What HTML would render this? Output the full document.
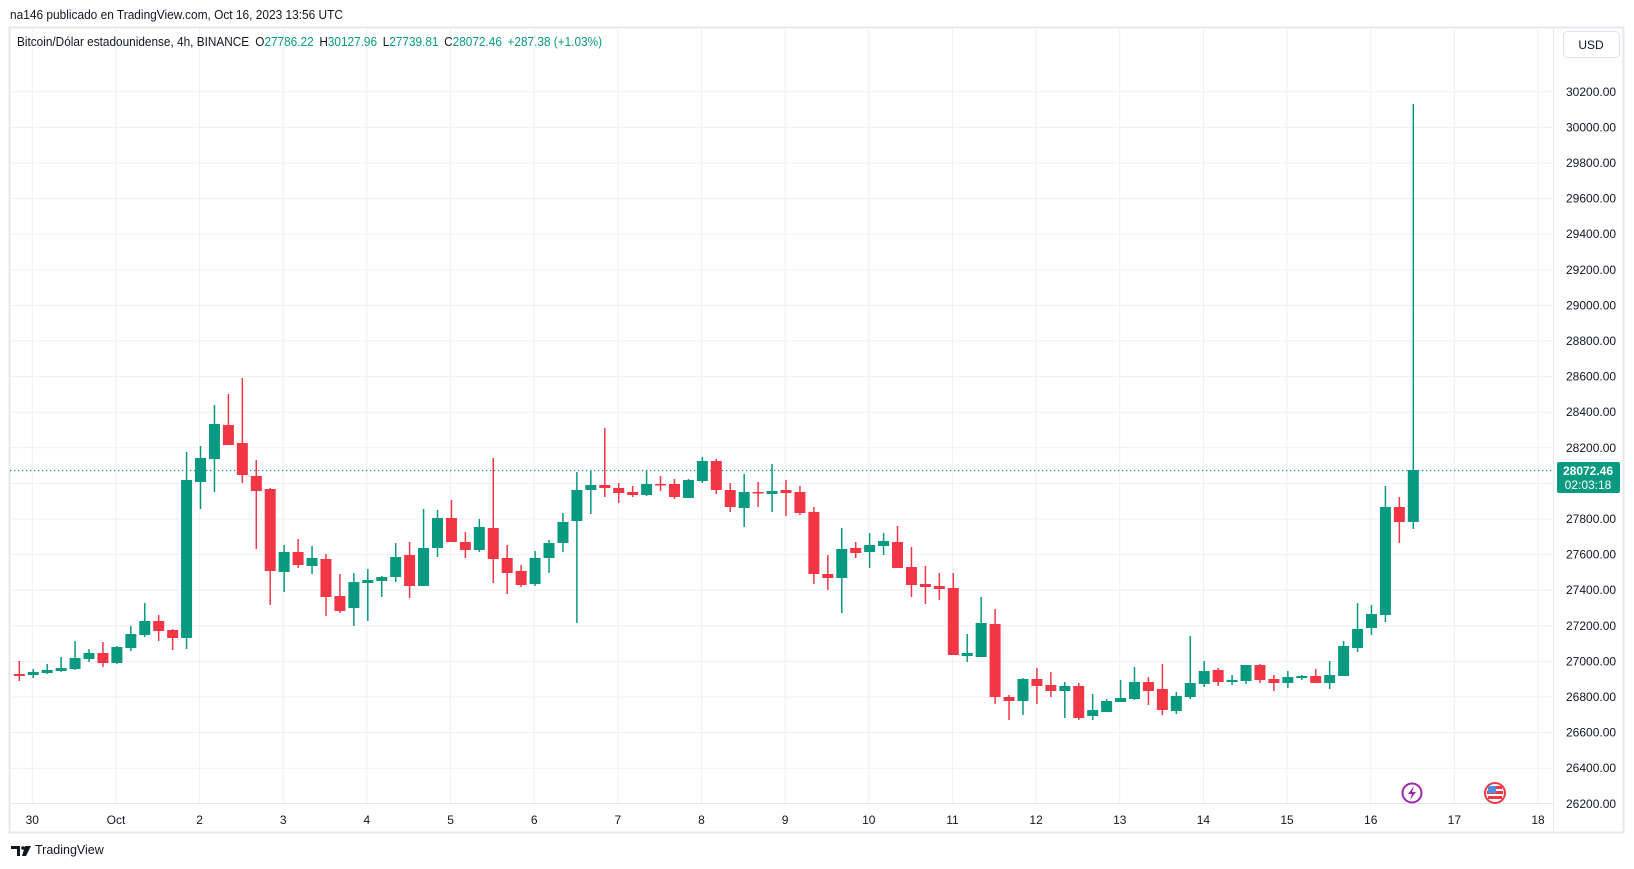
<!DOCTYPE html>
<html><head><meta charset="utf-8"><style>
html,body{margin:0;padding:0;background:#fff;width:1634px;height:869px;overflow:hidden}
svg{display:block;font-family:"Liberation Sans",sans-serif}
</style></head><body>
<svg id="s" width="1634" height="869" viewBox="0 0 1634 869" xmlns="http://www.w3.org/2000/svg">
<rect x="0" y="0" width="1634" height="869" fill="#fff"/>
<text x="10" y="19" font-size="12.5" fill="#131722" textLength="333" lengthAdjust="spacingAndGlyphs">na146 publicado en TradingView.com, Oct 16, 2023 13:56 UTC</text>
<rect x="9.5" y="27.5" width="1614" height="805" fill="#fff" stroke="#e6e8ee" stroke-width="2"/>
<g id="grid" stroke="#f0f1f4" stroke-width="1"></g>
<line x1="10" y1="803.5" x2="1553" y2="803.5" stroke="#e6e8ee"/>
<line x1="1553.5" y1="28" x2="1553.5" y2="832" stroke="#e6e8ee"/>
<line x1="10" y1="470.5" x2="1553" y2="470.5" stroke="#089981" stroke-width="1.3" stroke-dasharray="1.3 2.7"/>
<g id="candles"></g>
<g id="plabels" font-size="12" fill="#131722"></g>
<g id="tlabels" font-size="12" fill="#131722" text-anchor="middle"></g>
<text x="17" y="46" font-size="12.5" fill="#131722" textLength="585" lengthAdjust="spacingAndGlyphs">Bitcoin/Dólar estadounidense, 4h, BINANCE <tspan dx="3">O</tspan><tspan fill="#089981">27786.22</tspan><tspan dx="6">H</tspan><tspan fill="#089981">30127.96</tspan><tspan dx="6">L</tspan><tspan fill="#089981">27739.81</tspan><tspan dx="6">C</tspan><tspan fill="#089981">28072.46</tspan><tspan dx="6" fill="#089981">+287.38 (+1.03%)</tspan></text>
<rect x="1563.5" y="31.5" width="56" height="26" rx="4" fill="#fff" stroke="#e0e3eb"/>
<text x="1591" y="49" font-size="12" fill="#131722" text-anchor="middle">USD</text>
<rect x="1557" y="462" width="63" height="31" rx="2" fill="#089981"/>
<text x="1588" y="475" font-size="12" font-weight="bold" fill="#fff" text-anchor="middle">28072.46</text>
<text x="1588" y="489" font-size="12" fill="#fff" text-anchor="middle">02:03:18</text>
<circle cx="1412" cy="793" r="9.5" fill="#fff" stroke="#9c27b0" stroke-width="2"/>
<path d="M1414 786 L1408 794 L1412 794 L1410 800 L1416 792 L1412 792 Z" fill="#9c27b0"/>
<circle cx="1495" cy="793" r="10" fill="#fff" stroke="#f23645" stroke-width="2"/>
<rect x="1488" y="786" width="14" height="3" fill="#f23645"/><rect x="1487" y="791" width="16" height="3" fill="#f23645"/><rect x="1488" y="796" width="14" height="3" fill="#f23645"/>
<rect x="1488" y="786" width="8" height="7" fill="#4a90e2"/>
<text x="35" y="854" font-size="12.5" fill="#131722">TradingView</text>
<path d="M11 846 h9 v10 h-3 v-7 h-6z" fill="#131722"/><circle cx="23" cy="848" r="1.8" fill="#131722"/><path d="M25 846 h6 l-5 10 h-4z" fill="#131722"/>
</svg>
<script>
var NS="http://www.w3.org/2000/svg";
function el(p,t,a){var e=document.createElementNS(NS,t);for(var k in a)e.setAttribute(k,a[k]);p.appendChild(e);return e;}
var g=document.getElementById("grid"),pl=document.getElementById("plabels"),tl=document.getElementById("tlabels");
function py(p){return 470.5+(28072.46-p)/200*35.6;}
for(var p=26200;p<=30200;p+=200){var y=py(p);if(y<803)el(g,"line",{x1:10,x2:1553,y1:y,y2:y});var t=el(pl,"text",{x:1566,y:y+4});t.textContent=p.toFixed(2);}
var days=["30","Oct","2","3","4","5","6","7","8","9","10","11","12","13","14","15","16","17","18"];
for(var k=0;k<days.length;k++){var x=32.3+k*83.65;el(g,"line",{x1:x,x2:x,y1:28,y2:803});var t=el(tl,"text",{x:x,y:824});t.textContent=days[k];}
var G="#089981",R="#f23645";
var d=[[661,674,676,681,R],[669,672,675,678,G],[664,670,673,674,G],[657,668,671,672,G],[641,658,669,670,G],[649,653,659,662,G],[642,653,663,667,R],[646,647,663,664,G],[626,634,648,651,G],[603,621,635,637,G],
[615,621,631,641,R],[629,630,638,650,R],[452,480,638,649,G],[446,458,482,509,G],[405,424,459,492,G],[394,425,445,445,R],[378,443,475,483,R],[460,476,491,549,R],[488,489,571,605,R],[545,552,572,592,G],
[539,552,565,568,R],[546,558,566,574,G],[554,559,597,616,R],[574,596,611,613,R],[573,582,608,626,G],[569,580,583,621,G],[576,577,581,597,G],[543,557,577,582,G],[542,555,586,598,R],[509,548,586,586,G],
[510,518,548,557,G],[500,518,542,542,R],[532,542,550,558,R],[519,527,550,552,G],[458,528,559,583,R],[545,558,573,594,R],[565,571,585,587,R],[551,558,584,586,G],[540,543,558,573,G],[513,522,543,552,G],
[472,490,521,623,G],[471,485,490,514,G],[428,485,488,497,R],[483,488,493,503,R],[486,492,495,497,R],[470,484,495,496,G],[476,484,485,491,R],[479,484,497,499,R],[479,480,498,498,G],[457,461,481,483,G],
[459,461,490,494,R],[483,490,507,512,R],[474,492,508,527,G],[482,492,493,507,R],[464,491,494,512,G],[480,490,493,516,R],[486,492,513,515,R],[507,512,574,584,R],[555,574,578,590,R],[528,549,578,613,G],
[542,548,553,558,R],[533,545,552,568,G],[533,541,546,555,G],[526,542,568,568,R],[547,567,585,597,R],[566,584,587,604,R],[573,586,589,600,R],[573,588,655,655,R],[634,653,656,662,G],[597,623,657,657,G],
[609,624,697,704,R],[695,697,701,720,R],[678,679,701,715,G],[668,679,686,704,R],[672,685,691,697,R],[682,686,691,718,G],[683,686,718,720,R],[694,710,716,720,G],[699,701,712,712,G],[680,698,702,702,G],
[667,682,699,700,G],[677,682,691,705,R],[664,689,710,715,R],[692,696,711,714,G],[636,683,697,699,G],[661,671,684,687,G],[668,670,682,686,R],[675,680,682,685,G],[665,665,681,684,G],[664,665,680,683,R],
[675,679,683,691,R],[671,677,683,688,G],[675,676,678,680,G],[669,676,683,683,R],[661,675,683,689,G],[641,646,676,676,G],[603,629,648,652,G],[605,614,628,635,G],[486,507,615,622,G],[497,507,522,543,R],
[104,470,522,529,G]];
var cg=document.getElementById("candles");
for(var i=0;i<d.length;i++){var c=d[i],x=19.3+i*13.94;
el(cg,"rect",{x:x-0.75,y:c[0],width:1.5,height:Math.max(1,c[3]-c[0]),fill:c[4]});
el(cg,"rect",{x:x-5.5,y:c[1],width:11,height:Math.max(1.5,c[2]-c[1]),fill:c[4]});}
</script>
</body></html>
